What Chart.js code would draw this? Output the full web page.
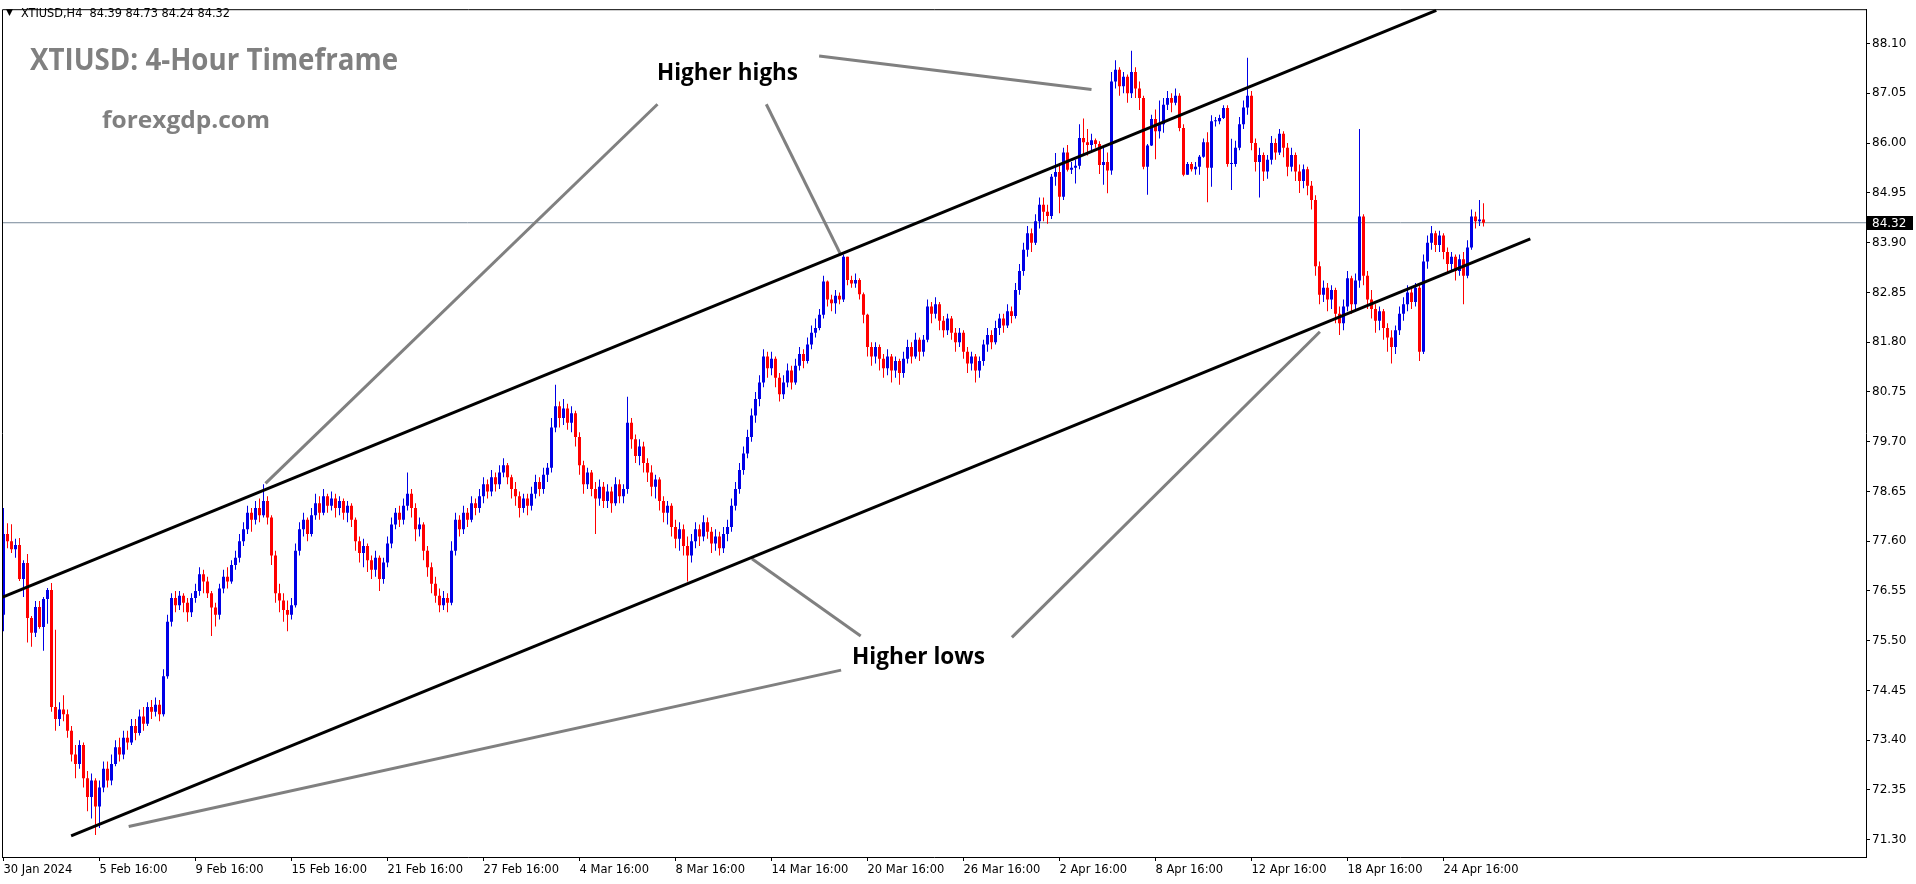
<!DOCTYPE html>
<html lang="en">
<head>
<meta charset="UTF-8" />
<title>XTIUSD 4-Hour Timeframe</title>
<script src="https://cdn.jsdelivr.net/npm/chart.js"></script>
<style>
  html, body { margin: 0; padding: 0; background: #ffffff; overflow: hidden; }
  canvas { display: block; }
</style>
</head>
<body>
<canvas id="chart" width="1916" height="884"></canvas>
<script>
  // ---- candles (one per 4 hours), open = previous close ----
  const firstOpen = 76.05;

  const closes = [
    77.75,77.60,77.43,77.52,76.80,77.14,75.98,75.67,76.21,75.79,
    76.38,76.57,74.10,73.85,74.05,73.95,73.60,73.10,72.90,73.30,
    72.60,72.20,72.55,72.00,72.40,72.80,72.55,72.90,73.25,73.10,
    73.45,73.35,73.70,73.55,73.90,73.75,74.10,74.00,74.15,73.95,
    74.75,75.90,76.40,76.25,76.45,76.30,76.10,76.40,76.55,76.90,
    76.75,76.50,76.20,76.05,76.60,76.85,76.75,77.10,77.25,77.60,
    77.85,78.20,78.05,78.30,78.15,78.45,78.10,77.30,76.50,76.35,
    76.15,76.05,76.25,77.40,77.85,78.05,77.75,78.15,78.40,78.20,
    78.55,78.35,78.50,78.30,78.45,78.20,78.35,78.05,77.60,77.35,
    77.50,77.20,77.00,77.25,76.80,77.15,77.55,77.95,78.20,78.05,
    78.35,78.60,78.30,77.85,77.95,77.40,77.05,76.70,76.45,76.25,
    76.40,76.30,77.40,78.05,77.85,78.20,78.05,78.40,78.30,78.55,
    78.80,78.65,78.95,78.80,79.05,79.20,78.95,78.70,78.55,78.30,
    78.50,78.35,78.60,78.85,78.70,79.00,79.15,80.00,80.45,80.20,
    80.40,80.10,80.30,79.80,79.20,78.80,79.05,78.70,78.50,78.75,
    78.45,78.65,78.40,78.80,78.55,78.70,80.10,79.75,79.40,79.60,
    79.25,79.05,78.75,78.90,78.45,78.20,78.35,77.90,77.65,77.85,
    77.50,77.30,77.60,77.85,77.70,78.00,77.80,77.55,77.70,77.45,
    77.75,77.90,78.35,78.70,79.10,79.45,79.80,80.25,80.60,80.95,
    81.50,81.25,81.45,81.05,80.70,80.95,81.20,80.95,81.30,81.55,
    81.40,81.75,82.00,82.10,82.38,83.08,82.70,82.62,82.78,82.70,
    83.60,83.11,83.04,83.11,82.81,82.38,81.70,81.50,81.70,81.45,
    81.25,81.50,81.20,81.40,81.15,81.45,81.70,81.50,81.85,81.60,
    81.85,82.55,82.40,82.60,82.25,82.05,82.30,82.00,81.80,82.00,
    81.60,81.35,81.50,81.20,81.40,81.75,81.95,81.80,82.10,82.30,
    82.15,82.45,82.35,82.90,83.30,83.75,84.10,83.90,84.35,84.70,
    84.55,84.46,85.29,85.39,84.87,85.80,85.44,85.48,85.52,86.11,
    86.02,85.96,86.06,85.98,85.54,85.60,85.42,87.30,87.55,87.20,
    87.40,87.05,87.50,87.15,86.95,85.50,85.95,86.51,86.25,86.40,
    86.81,86.95,86.85,87.00,86.32,85.33,85.56,85.45,85.50,85.71,
    86.02,85.48,86.46,86.46,86.53,86.74,85.56,85.56,85.90,86.40,
    86.75,87.00,86.00,85.60,85.75,85.40,85.65,86.00,85.80,86.20,
    85.90,85.50,85.75,85.40,85.20,85.45,85.10,84.80,83.40,82.80,
    82.95,82.70,82.90,82.40,82.20,82.55,83.15,82.60,83.10,84.45,
    83.20,82.70,82.50,82.25,82.45,82.10,81.90,81.70,82.05,82.40,
    82.60,82.85,82.65,82.95,81.60,83.50,83.90,84.10,83.85,84.05,
    83.70,83.45,83.60,83.30,83.55,83.20,83.80,84.45,84.35,84.39,
    84.32
  ];

  const highs = [
    78.30,77.98,77.96,77.65,77.67,77.20,77.33,76.02,76.34,76.34,
    76.42,76.61,76.72,75.73,74.20,74.35,74.05,73.70,73.30,73.40,
    73.35,72.75,72.70,72.60,72.55,72.95,72.95,73.10,73.40,73.45,
    73.60,73.60,73.85,73.85,74.05,74.10,74.20,74.25,74.30,74.25,
    74.90,76.05,76.50,76.55,76.55,76.50,76.40,76.50,76.70,77.05,
    77.00,76.85,76.55,76.30,76.70,77.00,77.05,77.20,77.40,77.75,
    78.00,78.35,78.30,78.45,78.50,78.80,78.55,78.15,77.40,76.70,
    76.50,76.35,76.40,77.55,78.00,78.20,78.10,78.30,78.60,78.55,
    78.70,78.60,78.65,78.60,78.55,78.50,78.45,78.40,78.10,77.70,
    77.65,77.55,77.30,77.40,77.30,77.25,77.70,78.10,78.30,78.35,
    78.50,79.05,78.70,78.40,78.10,78.00,77.50,77.15,76.85,76.60,
    76.55,76.50,77.60,78.20,78.15,78.35,78.30,78.55,78.50,78.70,
    78.95,78.90,79.10,79.05,79.20,79.35,79.25,79.00,78.85,78.65,
    78.60,78.60,78.75,79.00,78.95,79.15,79.25,80.20,80.90,80.55,
    80.60,80.50,80.45,80.35,79.90,79.30,79.15,79.10,78.85,78.90,
    78.85,78.80,78.75,78.95,78.90,78.80,80.65,80.20,79.85,79.75,
    79.70,79.35,79.20,79.00,78.95,78.55,78.45,78.40,78.05,78.00,
    77.95,77.70,77.75,78.00,77.95,78.15,78.10,77.90,77.85,77.80,
    77.90,78.05,78.50,78.85,79.25,79.60,79.95,80.40,80.75,81.10,
    81.65,81.60,81.60,81.50,81.15,81.10,81.35,81.30,81.45,81.70,
    81.65,81.90,82.15,82.30,82.50,83.20,83.10,82.80,82.90,82.85,
    83.65,83.60,83.20,83.25,83.15,82.85,82.40,81.80,81.80,81.75,
    81.55,81.65,81.55,81.50,81.45,81.60,81.85,81.80,82.00,81.90,
    81.95,82.70,82.65,82.75,82.65,82.35,82.40,82.35,82.10,82.10,
    82.05,81.70,81.60,81.55,81.50,81.85,82.10,82.05,82.25,82.40,
    82.40,82.60,82.55,83.05,83.45,83.90,84.25,84.20,84.50,84.85,
    84.85,84.70,85.35,85.79,85.58,85.90,85.96,85.60,85.65,86.40,
    86.52,86.30,86.20,86.10,86.04,85.90,85.80,87.50,87.75,87.60,
    87.50,87.45,87.95,87.60,87.30,87.00,85.98,86.60,86.71,86.90,
    86.95,87.10,87.05,87.15,87.05,86.40,85.60,85.60,85.60,85.75,
    86.10,86.23,86.59,86.55,86.60,86.80,86.80,86.09,86.05,86.55,
    86.90,87.80,87.10,86.10,85.90,85.80,85.75,86.15,86.10,86.30,
    86.25,86.00,85.90,85.80,85.55,85.55,85.50,85.20,84.90,83.50,
    83.10,83.05,83.00,82.95,82.55,82.70,83.30,83.20,83.25,86.30,
    84.50,83.30,82.90,82.60,82.55,82.50,82.20,82.05,82.15,82.55,
    82.75,83.00,82.95,83.05,83.00,83.65,84.05,84.25,84.15,84.15,
    84.10,83.80,83.70,83.65,83.65,83.70,83.95,84.60,84.55,84.80,
    84.73
  ];

  const lows = [
    75.70,77.45,77.35,77.25,76.76,76.42,75.46,75.37,75.58,75.75,
    75.29,75.86,74.00,73.60,73.70,73.80,73.45,72.95,72.60,72.80,
    72.40,71.90,71.75,71.40,71.55,72.30,72.40,72.45,72.85,72.95,
    73.00,73.20,73.30,73.40,73.50,73.60,73.70,73.85,73.90,73.80,
    73.90,74.70,75.80,76.10,76.15,76.10,75.90,76.00,76.30,76.45,
    76.50,76.40,75.60,75.80,75.95,76.50,76.60,76.70,77.00,77.15,
    77.50,77.75,77.80,77.95,78.00,78.10,77.95,77.10,76.30,76.10,
    75.90,75.70,75.95,76.20,77.30,77.70,77.60,77.70,78.05,78.05,
    78.15,78.20,78.25,78.10,78.15,78.05,78.00,77.90,77.40,77.15,
    77.05,76.95,76.80,76.85,76.55,76.70,77.05,77.45,77.85,77.90,
    77.95,78.25,78.10,77.60,77.70,77.20,76.85,76.50,76.30,76.10,
    76.15,76.10,76.25,77.30,77.70,77.75,77.90,78.00,78.15,78.20,
    78.40,78.50,78.55,78.65,78.70,78.95,78.80,78.50,78.35,78.10,
    78.20,78.15,78.25,78.50,78.55,78.60,78.85,79.05,79.90,80.00,
    80.05,79.95,79.90,79.60,79.00,78.60,78.70,78.55,77.75,78.35,
    78.30,78.30,78.20,78.35,78.40,78.40,78.60,79.55,79.25,79.20,
    79.05,78.85,78.55,78.50,78.25,78.00,77.95,77.70,77.45,77.40,
    77.30,76.75,77.15,77.45,77.50,77.60,77.65,77.35,77.40,77.30,
    77.35,77.60,77.80,78.25,78.60,79.00,79.35,79.70,80.10,80.45,
    80.85,81.05,81.10,80.85,80.55,80.60,80.85,80.80,80.90,81.20,
    81.25,81.35,81.65,81.90,82.05,82.30,82.55,82.45,82.40,82.60,
    82.65,83.00,82.95,82.95,82.70,82.20,81.50,81.30,81.35,81.20,
    81.05,81.10,80.95,81.05,80.90,81.05,81.35,81.35,81.45,81.40,
    81.50,81.80,82.20,82.30,82.05,81.90,81.95,81.85,81.60,81.70,
    81.45,81.15,81.20,80.95,81.05,81.30,81.60,81.65,81.75,81.95,
    82.00,82.10,82.20,82.30,82.80,83.20,83.60,83.70,83.85,84.20,
    84.35,84.30,84.40,85.10,84.52,84.80,85.40,85.35,85.15,85.45,
    85.74,85.74,85.80,85.90,85.35,85.12,84.94,85.33,87.15,87.00,
    87.05,86.85,86.95,86.95,86.70,85.45,84.91,85.94,85.66,86.10,
    86.22,86.70,86.65,86.80,86.25,85.30,85.33,85.40,85.33,85.33,
    85.69,84.75,85.08,86.35,86.40,86.51,85.50,85.01,85.50,85.85,
    86.30,86.60,85.85,85.40,84.85,85.20,85.25,85.55,85.65,85.75,
    85.70,85.30,85.40,85.20,84.95,85.05,84.90,84.60,83.20,82.60,
    82.65,82.45,82.50,82.20,81.95,82.05,82.45,82.40,82.45,82.95,
    83.00,82.50,82.30,82.00,82.05,81.85,81.60,81.35,81.55,81.95,
    82.25,82.45,82.50,82.55,81.40,81.55,83.35,83.75,83.70,83.70,
    83.55,83.25,83.30,83.10,83.20,82.60,83.15,83.75,84.20,84.25,
    84.24
  ];

  const priceTicks = [88.10, 87.05, 86.00, 84.95, 83.90, 82.85, 81.80, 80.75, 79.70,
                      78.65, 77.60, 76.55, 75.50, 74.45, 73.40, 72.35, 71.30];

  const dateTickIdx = [0, 24, 48, 72, 96, 120, 144, 168, 192, 216, 240, 264, 288, 312, 336, 360];
  const dateTickLabels = ['30 Jan 2024', '5 Feb 16:00', '9 Feb 16:00', '15 Feb 16:00', '21 Feb 16:00',
    '27 Feb 16:00', '4 Mar 16:00', '8 Mar 16:00', '14 Mar 16:00', '20 Mar 16:00', '26 Mar 16:00',
    '2 Apr 16:00', '8 Apr 16:00', '12 Apr 16:00', '18 Apr 16:00', '24 Apr 16:00'];

  const lastPrice = 84.32;
  const headerText = 'XTIUSD,H4  84.39 84.73 84.24 84.32';

  // drawn lines as [candle index, price] pairs
  const upperChannel = [[-0.22, 76.42], [358.2, 88.80]];
  const lowerChannel = [[16.9, 71.38], [381.7, 83.98]];
  const pointerLines = [
    [[163.5, 86.82], [65.5, 78.82]],
    [[190.7, 86.82], [209.4, 83.63]],
    [[203.9, 87.84], [272.0, 87.13]],
    [[31.3, 71.58], [209.4, 74.88]],
    [[187.1, 77.23], [214.3, 75.60]],
    [[252.1, 75.57], [329.1, 82.02]]
  ];

  const BULL = '#0000e6';
  const BEAR = '#ff0000';

  const opens = closes.map((c, i) => (i === 0 ? firstOpen : closes[i - 1]));
  const candleColors = closes.map((c, i) => (c >= opens[i] ? BULL : BEAR));

  function lineSet(pts, color, width, order) {
    return {
      type: 'line',
      data: pts.map(p => ({ x: p[0], y: p[1] })),
      borderColor: color,
      borderWidth: width,
      pointRadius: 0,
      tension: 0,
      clip: 0,
      order: order
    };
  }

  function fitText(ctx, text, x, y, font, width, color) {
    ctx.save();
    ctx.font = font;
    const w = ctx.measureText(text).width;
    ctx.translate(x, y);
    ctx.scale(width / w, 1);
    ctx.fillStyle = color;
    ctx.textAlign = 'left';
    ctx.textBaseline = 'alphabetic';
    ctx.fillText(text, 0, 0);
    ctx.restore();
  }

  const overlay = {
    id: 'overlay',
    afterDraw(chart) {
      const ctx = chart.ctx;
      const a = chart.chartArea;
      const y = chart.scales.y;
      ctx.save();

      // left and top frame
      ctx.strokeStyle = '#000';
      ctx.lineWidth = 1;
      ctx.beginPath();
      ctx.moveTo(a.left + 0.5, a.bottom);
      ctx.lineTo(a.left + 0.5, a.top + 0.5);
      ctx.lineTo(a.right, a.top + 0.5);
      ctx.stroke();

      // current price tag
      const py = Math.round(y.getPixelForValue(lastPrice));
      ctx.fillStyle = '#000';
      ctx.fillRect(a.right + 1, py - 7, 46, 14);
      ctx.fillStyle = '#fff';
      ctx.font = '12px "DejaVu Sans"';
      ctx.textAlign = 'left';
      ctx.textBaseline = 'middle';
      ctx.fillText(lastPrice.toFixed(2), a.right + 6, py + 1);

      // symbol header
      ctx.fillStyle = '#000';
      ctx.font = '9px "DejaVu Sans"';
      ctx.fillText('\u25BC', 6, 13);
      fitText(ctx, headerText, 21, 17, '11.5px "DejaVu Sans"', 209, '#000');

      // captions
      fitText(ctx, 'XTIUSD: 4-Hour Timeframe', 30, 70, 'bold 30px "Open Sans"', 368, '#808080');
      fitText(ctx, 'forexgdp.com', 102, 128, 'bold 24px "Open Sans"', 168, '#808080');
      fitText(ctx, 'Higher highs', 657, 80, 'bold 23px "Open Sans"', 141, '#000');
      fitText(ctx, 'Higher lows', 852, 664, 'bold 23px "Open Sans"', 133, '#000');

      ctx.restore();
    }
  };

  const datasets = [
    lineSet(upperChannel, '#000', 3, 0),
    lineSet(lowerChannel, '#000', 3, 0)
  ];
  pointerLines.forEach(l => datasets.push(lineSet(l, '#808080', 3, 1)));

  datasets.push({
    type: 'bar',
    data: closes.map((c, i) => ({ x: i, y: [opens[i], c] })),
    backgroundColor: candleColors,
    borderWidth: 0,
    barThickness: 3,
    minBarLength: 1,
    grouped: false,
    inflateAmount: 0,
    order: 2
  });
  datasets.push({
    type: 'bar',
    data: closes.map((c, i) => ({ x: i, y: [lows[i], highs[i]] })),
    backgroundColor: candleColors,
    borderWidth: 0,
    barThickness: 1,
    grouped: false,
    inflateAmount: 0,
    order: 3
  });
  datasets.push(lineSet([[-1, lastPrice], [470, lastPrice]], '#778899', 1, 4));

  new Chart(document.getElementById('chart'), {
    type: 'bar',
    data: { datasets: datasets },
    options: {
      responsive: false,
      animation: false,
      devicePixelRatio: 1,
      layout: { padding: { left: 2, top: 2, right: 0, bottom: 0 } },
      plugins: { legend: { display: false }, tooltip: { enabled: false } },
      scales: {
        x: {
          type: 'linear',
          offset: false,
          min: -0.375,
          max: 465.625,
          afterBuildTicks: s => { s.ticks = dateTickIdx.map(v => ({ value: v })); },
          afterFit: s => { s.height = 27; },
          grid: { drawOnChartArea: false, tickLength: 4, color: '#000', offset: false },
          border: { display: true, color: '#000', width: 1 },
          ticks: {
            autoSkip: false,
            maxRotation: 0,
            minRotation: 0,
            align: 'start',
            padding: 2,
            color: '#000',
            font: { family: 'DejaVu Sans', size: 11.5 },
            callback: v => dateTickLabels[dateTickIdx.indexOf(v)]
          }
        },
        y: {
          position: 'right',
          min: 70.936,
          max: 88.826,
          afterBuildTicks: s => { s.ticks = priceTicks.map(v => ({ value: v })); },
          afterFit: s => { s.width = 50; },
          grid: { drawOnChartArea: false, tickLength: 4, color: '#000' },
          border: { display: true, color: '#000', width: 1 },
          ticks: {
            padding: 2,
            color: '#000',
            font: { family: 'DejaVu Sans', size: 12 },
            callback: v => v.toFixed(2)
          }
        }
      }
    },
    plugins: [overlay]
  });
</script>
</body>
</html>
